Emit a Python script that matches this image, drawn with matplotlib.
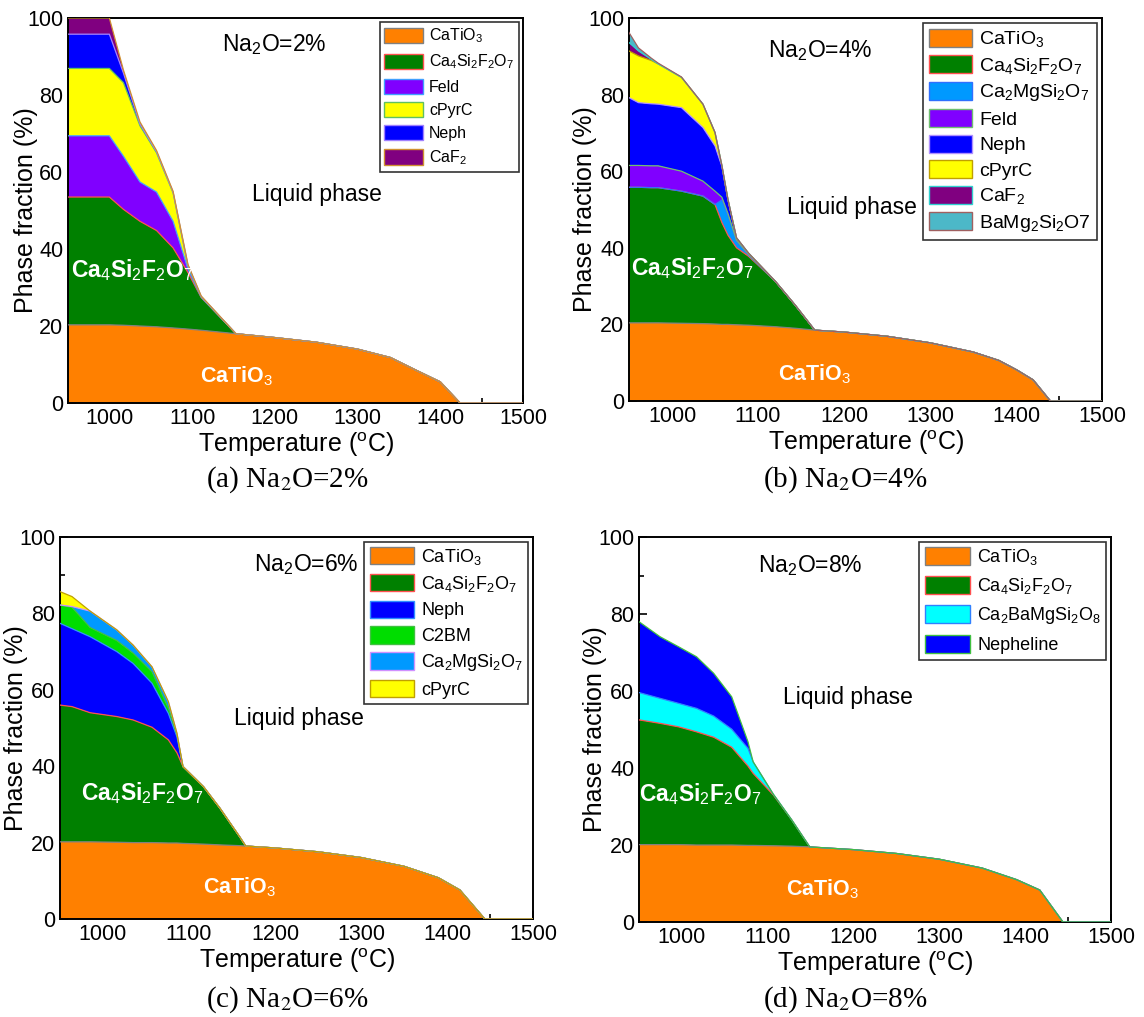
import numpy as np
import matplotlib
matplotlib.use("Agg")
import matplotlib.pyplot as plt
from matplotlib.patches import Patch
from matplotlib.ticker import MultipleLocator

plt.rcParams['font.family'] = ['Liberation Sans', 'DejaVu Sans']
plt.rcParams['mathtext.fontset'] = 'custom'
plt.rcParams['mathtext.rm'] = 'Liberation Sans'
plt.rcParams['mathtext.it'] = 'Liberation Sans:italic'
plt.rcParams['mathtext.bf'] = 'Liberation Sans:bold'

# ---------------- data (phase fractions, %) ----------------
# (a) Na2O = 2%
T_a = [950, 1000, 1017, 1037, 1057, 1077, 1095, 1111, 1153, 1200, 1250, 1300, 1340, 1370, 1400, 1424, 1500]
a_CaTiO3 = [20.3, 20.3, 20.2, 20.0, 19.8, 19.5, 19.2, 18.9, 18.0, 17.0, 15.8, 14.0, 11.8, 8.6, 5.5, 0, 0]
a_Ca4 = [33.2, 33.2, 30.1, 27.2, 25.0, 20.8, 14.7, 8.5, 0, 0, 0, 0, 0, 0, 0, 0, 0]
a_Feld = [15.9, 15.9, 13.8, 10.2, 10.0, 6.9, 0.9, 0.1, 0, 0, 0, 0, 0, 0, 0, 0, 0]
a_cPyrC = [17.5, 17.5, 19.1, 14.6, 10.2, 7.4, 0.7, 0.1, 0, 0, 0, 0, 0, 0, 0, 0, 0]
a_Neph = [8.9, 8.9, 2.5, 0.5, 0.3, 0.2, 0.3, 0.1, 0, 0, 0, 0, 0, 0, 0, 0, 0]
a_CaF2 = [4.2, 4.2, 0.8, 0.5, 0.3, 0.2, 0.2, 0.1, 0, 0, 0, 0, 0, 0, 0, 0, 0]

# (b) Na2O = 4%
T_b = [950, 961, 976, 984, 1011, 1036, 1050, 1058, 1065, 1075, 1089, 1120, 1143, 1166,
       1200, 1250, 1300, 1350, 1380, 1401, 1420, 1440, 1500]
b_CaTiO3 = [20.4, 20.4, 20.4, 20.4, 20.3, 20.2, 20.1, 20.0, 20.0, 19.9, 19.8, 19.4, 19.0, 18.5,
            18.0, 16.9, 15.2, 12.8, 10.6, 8.1, 5.5, 0, 0]
b_Ca4 = [35.4, 35.4, 35.3, 35.3, 34.5, 33.3, 31.2, 26.6, 23.3, 20.1, 18.0, 11.9, 6.1, 0,
         0, 0, 0, 0, 0, 0, 0, 0, 0]
b_Ca2Mg = [0, 0, 0, 0, 0, 0, 0, 5.9, 5.2, 1.7, 0.3, 0, 0, 0, 0, 0, 0, 0, 0, 0, 0, 0, 0]
b_Feld = [5.7, 5.7, 5.7, 5.7, 5.2, 3.9, 3.5, 0.7, 0.5, 0.3, 0.2, 0, 0, 0, 0, 0, 0, 0, 0, 0, 0, 0, 0]
b_Neph = [17.7, 16.4, 16.2, 16.1, 16.6, 14.0, 11.8, 8.1, 3.6, 0.6, 0.3, 0, 0, 0, 0, 0, 0, 0, 0, 0, 0, 0, 0]
b_cPyrC = [12.2, 12.2, 11.3, 10.5, 7.9, 6.1, 3.5, 0.2, 0.1, 0, 0, 0, 0, 0, 0, 0, 0, 0, 0, 0, 0, 0, 0]
b_CaF2 = [2.2, 1.3, 0.3, 0, 0, 0, 0, 0, 0, 0, 0, 0, 0, 0, 0, 0, 0, 0, 0, 0, 0, 0, 0]
b_BaMg = [2.6, 0.8, 0.3, 0.2, 0.1, 0, 0, 0, 0, 0, 0, 0, 0, 0, 0, 0, 0, 0, 0, 0, 0, 0, 0]

# (c) Na2O = 6%
T_c = [950, 964, 985, 1016, 1035, 1057, 1076, 1086, 1093, 1117, 1136, 1159, 1166,
       1200, 1250, 1300, 1350, 1390, 1415, 1444, 1500]
c_CaTiO3 = [20.2, 20.2, 20.2, 20.1, 20.0, 20.0, 19.9, 19.9, 19.8, 19.6, 19.4, 19.2, 19.1,
            18.6, 17.6, 16.1, 13.8, 10.8, 7.6, 0, 0]
c_Ca4 = [35.8, 35.4, 33.8, 32.9, 32.1, 30.2, 27.0, 23.6, 20.1, 15.0, 9.6, 2.3, 0,
         0, 0, 0, 0, 0, 0, 0, 0]
c_Neph = [21.4, 20.4, 19.9, 17.0, 14.8, 11.5, 6.9, 4.2, 0, 0, 0, 0, 0, 0, 0, 0, 0, 0, 0, 0, 0]
c_C2BM = [4.8, 5.6, 2.4, 2.9, 2.7, 3.0, 1.4, 0.5, 0, 0, 0, 0, 0, 0, 0, 0, 0, 0, 0, 0, 0]
c_Ca2Mg = [0, 0.2, 4.3, 2.8, 2.1, 1.3, 1.7, 0.4, 0, 0, 0, 0, 0, 0, 0, 0, 0, 0, 0, 0, 0]
c_cPyrC = [3.5, 2.6, 0, 0, 0, 0, 0, 0, 0, 0, 0, 0, 0, 0, 0, 0, 0, 0, 0, 0, 0]

# (d) Na2O = 8%
T_d = [950, 974.5, 996, 1017, 1037, 1058, 1077, 1083, 1106.5, 1128, 1149,
       1200, 1250, 1300, 1350, 1390, 1417, 1444, 1500]
d_CaTiO3 = [20.1, 20.1, 20.1, 20.0, 20.0, 20.0, 19.9, 19.9, 19.8, 19.7, 19.5,
            18.8, 17.8, 16.3, 14.0, 11.0, 8.3, 0, 0]
d_Ca4 = [32.4, 31.5, 30.6, 29.4, 28.0, 25.4, 20.6, 18.7, 13.2, 6.8, 0, 0, 0, 0, 0, 0, 0, 0, 0]
d_Ca2Ba = [7.1, 6.5, 6.1, 6.1, 5.5, 4.7, 4.6, 3.0, 0.2, 0, 0, 0, 0, 0, 0, 0, 0, 0, 0]
d_Neph = [18.4, 16.0, 14.7, 13.4, 11.1, 8.4, 1.7, 0, 0, 0, 0, 0, 0, 0, 0, 0, 0, 0, 0]

# ---------------- styles ----------------
C_ORANGE = '#FF8000'; C_GREEN = '#008000'; C_FELD = '#8000FF'; C_YEL = '#FFFF00'
C_BLUE = '#0000FF'; C_CAF2 = '#800080'; C_C2MS = '#0099FF'; C_BAMG = '#4CB8C8'
C_C2BM = '#00DD00'; C_CYAN = '#00FFFF'

E_GRAY = '#808080'; E_RED = '#FF5050'

panels = [
    dict(T=T_a, rect=[68, 18, 523, 403], label='(a) Na$_2$O=2%', na='Na$_2$O=2%',
         series=[(a_CaTiO3, 'CaTiO$_3$', C_ORANGE, E_GRAY),
                 (a_Ca4, 'Ca$_4$Si$_2$F$_2$O$_7$', C_GREEN, E_RED),
                 (a_Feld, 'Feld', C_FELD, '#40A0FF'),
                 (a_cPyrC, 'cPyrC', C_YEL, '#60C060'),
                 (a_Neph, 'Neph', C_BLUE, '#A080FF'),
                 (a_CaF2, 'CaF$_2$', C_CAF2, '#D09030')],
         na_xy=(1199, 93.2), liq_xy=(1251, 54.2), ca4_xy=(1027, 34.6), cti_xy=(1154, 7.0),
         leg=dict(fontsize=11.5, handlelength=2.4, handleheight=1.1, labelspacing=0.45),
         cap_xy=(287, 480)),
    dict(T=T_b, rect=[629, 18, 1102, 401], label='(b) Na$_2$O=4%', na='Na$_2$O=4%',
         series=[(b_CaTiO3, 'CaTiO$_3$', C_ORANGE, E_GRAY),
                 (b_Ca4, 'Ca$_4$Si$_2$F$_2$O$_7$', C_GREEN, E_RED),
                 (b_Ca2Mg, 'Ca$_2$MgSi$_2$O$_7$', C_C2MS, '#3070FF'),
                 (b_Feld, 'Feld', C_FELD, '#70C070'),
                 (b_Neph, 'Neph', C_BLUE, '#B090FF'),
                 (b_cPyrC, 'cPyrC', C_YEL, '#C0A000'),
                 (b_CaF2, 'CaF$_2$', C_CAF2, '#30D0D0'),
                 (b_BaMg, 'BaMg$_2$Si$_2$O7', C_BAMG, '#A06060')],
         na_xy=(1172, 91.4), liq_xy=(1209, 50.5), ca4_xy=(1023, 34.8), cti_xy=(1166, 7.1),
         leg=dict(fontsize=14, handlelength=2.2, handleheight=1.05, labelspacing=0.3),
         cap_xy=(845, 480)),
    dict(T=T_c, rect=[60, 537, 533, 919], label='(c) Na$_2$O=6%', na='Na$_2$O=6%',
         series=[(c_CaTiO3, 'CaTiO$_3$', C_ORANGE, E_GRAY),
                 (c_Ca4, 'Ca$_4$Si$_2$F$_2$O$_7$', C_GREEN, E_RED),
                 (c_Neph, 'Neph', C_BLUE, '#3090FF'),
                 (c_C2BM, 'C2BM', C_C2BM, '#40C040'),
                 (c_Ca2Mg, 'Ca$_2$MgSi$_2$O$_7$', C_C2MS, '#D090FF'),
                 (c_cPyrC, 'cPyrC', C_YEL, '#C0A000')],
         na_xy=(1236, 92.7), liq_xy=(1228, 52.6), ca4_xy=(1046, 33.0), cti_xy=(1159, 8.4),
         leg=dict(fontsize=13, handlelength=2.45, handleheight=1.1, labelspacing=0.38),
         cap_xy=(287, 1000)),
    dict(T=T_d, rect=[639, 537, 1111, 922], label='(d) Na$_2$O=8%', na='Na$_2$O=8%',
         series=[(d_CaTiO3, 'CaTiO$_3$', C_ORANGE, E_GRAY),
                 (d_Ca4, 'Ca$_4$Si$_2$F$_2$O$_7$', C_GREEN, E_RED),
                 (d_Ca2Ba, 'Ca$_2$BaMgSi$_2$O$_8$', C_CYAN, '#3080FF'),
                 (d_Neph, 'Nepheline', C_BLUE, '#40C040')],
         na_xy=(1149, 92.7), liq_xy=(1194, 58.2), ca4_xy=(1021, 33.2), cti_xy=(1164, 8.6),
         leg=dict(fontsize=13, handlelength=2.5, handleheight=1.2, labelspacing=0.48),
         cap_xy=(845, 1000)),
]

W, H = 1144, 1017
fig = plt.figure(figsize=(W / 100, H / 100), dpi=100)

for p in panels:
    l, t, r, b = p['rect']
    ax = fig.add_axes([l / W, 1 - b / H, (r - l) / W, (b - t) / H])
    T = np.array(p['T'], dtype=float)
    base = np.zeros_like(T)
    handles = []
    for vals, name, fc, ec in p['series']:
        v = np.array(vals, dtype=float)
        top = base + v
        ax.fill_between(T, base, top, facecolor=fc, edgecolor='none', linewidth=0, zorder=2)
        ax.plot(T, top, color=ec, lw=0.9, zorder=3)
        base = top
        handles.append(Patch(facecolor=fc, edgecolor=ec, linewidth=1.0, label=name))

    ax.set_xlim(950, 1500)
    ax.set_ylim(0, 100)
    ax.xaxis.set_major_locator(MultipleLocator(100))
    ax.xaxis.set_minor_locator(MultipleLocator(50))
    ax.yaxis.set_major_locator(MultipleLocator(20))
    ax.yaxis.set_minor_locator(MultipleLocator(10))
    ax.tick_params(which='both', direction='in', top=False, right=False, labelsize=15.5, width=1.2)
    ax.tick_params(which='major', length=6)
    ax.tick_params(which='minor', length=3.5)
    ax.set_xticks([1000, 1100, 1200, 1300, 1400, 1500])
    for s in ax.spines.values():
        s.set_linewidth(1.4)
    ax.set_xlabel('Temperature ($^{\\rm o}$C)', fontsize=18, labelpad=1)
    ax.set_ylabel('Phase fraction (%)', fontsize=18)
    ax.yaxis.set_label_coords(-0.067, 0.5)

    ax.text(*p['na_xy'], p['na'], fontsize=16.5, ha='center', va='center', zorder=5)
    ax.text(*p['liq_xy'], 'Liquid phase', fontsize=16.5, ha='center', va='center', zorder=5)
    ax.text(*p['ca4_xy'], 'Ca$_4$Si$_2$F$_2$O$_7$', fontsize=16.5, fontweight='bold', color='white',
            ha='center', va='center', zorder=5)
    ax.text(*p['cti_xy'], 'CaTiO$_3$', fontsize=15.5, fontweight='bold', color='white',
            ha='center', va='center', zorder=5)

    leg = ax.legend(handles=handles, loc='upper right', bbox_to_anchor=(1.0, 1.0),
                    frameon=True, fancybox=False, edgecolor='black',
                    borderaxespad=0.25, handletextpad=0.4, borderpad=0.3, **p['leg'])
    leg.get_frame().set_linewidth(1.2)
    leg.set_zorder(6)

    fig.text(p['cap_xy'][0] / W, 1 - p['cap_xy'][1] / H, p['label'],
             fontsize=21, ha='center', va='center',
             family=['Liberation Serif', 'DejaVu Serif'],
             math_fontfamily='stix')

fig.savefig('out.png', dpi=100)
